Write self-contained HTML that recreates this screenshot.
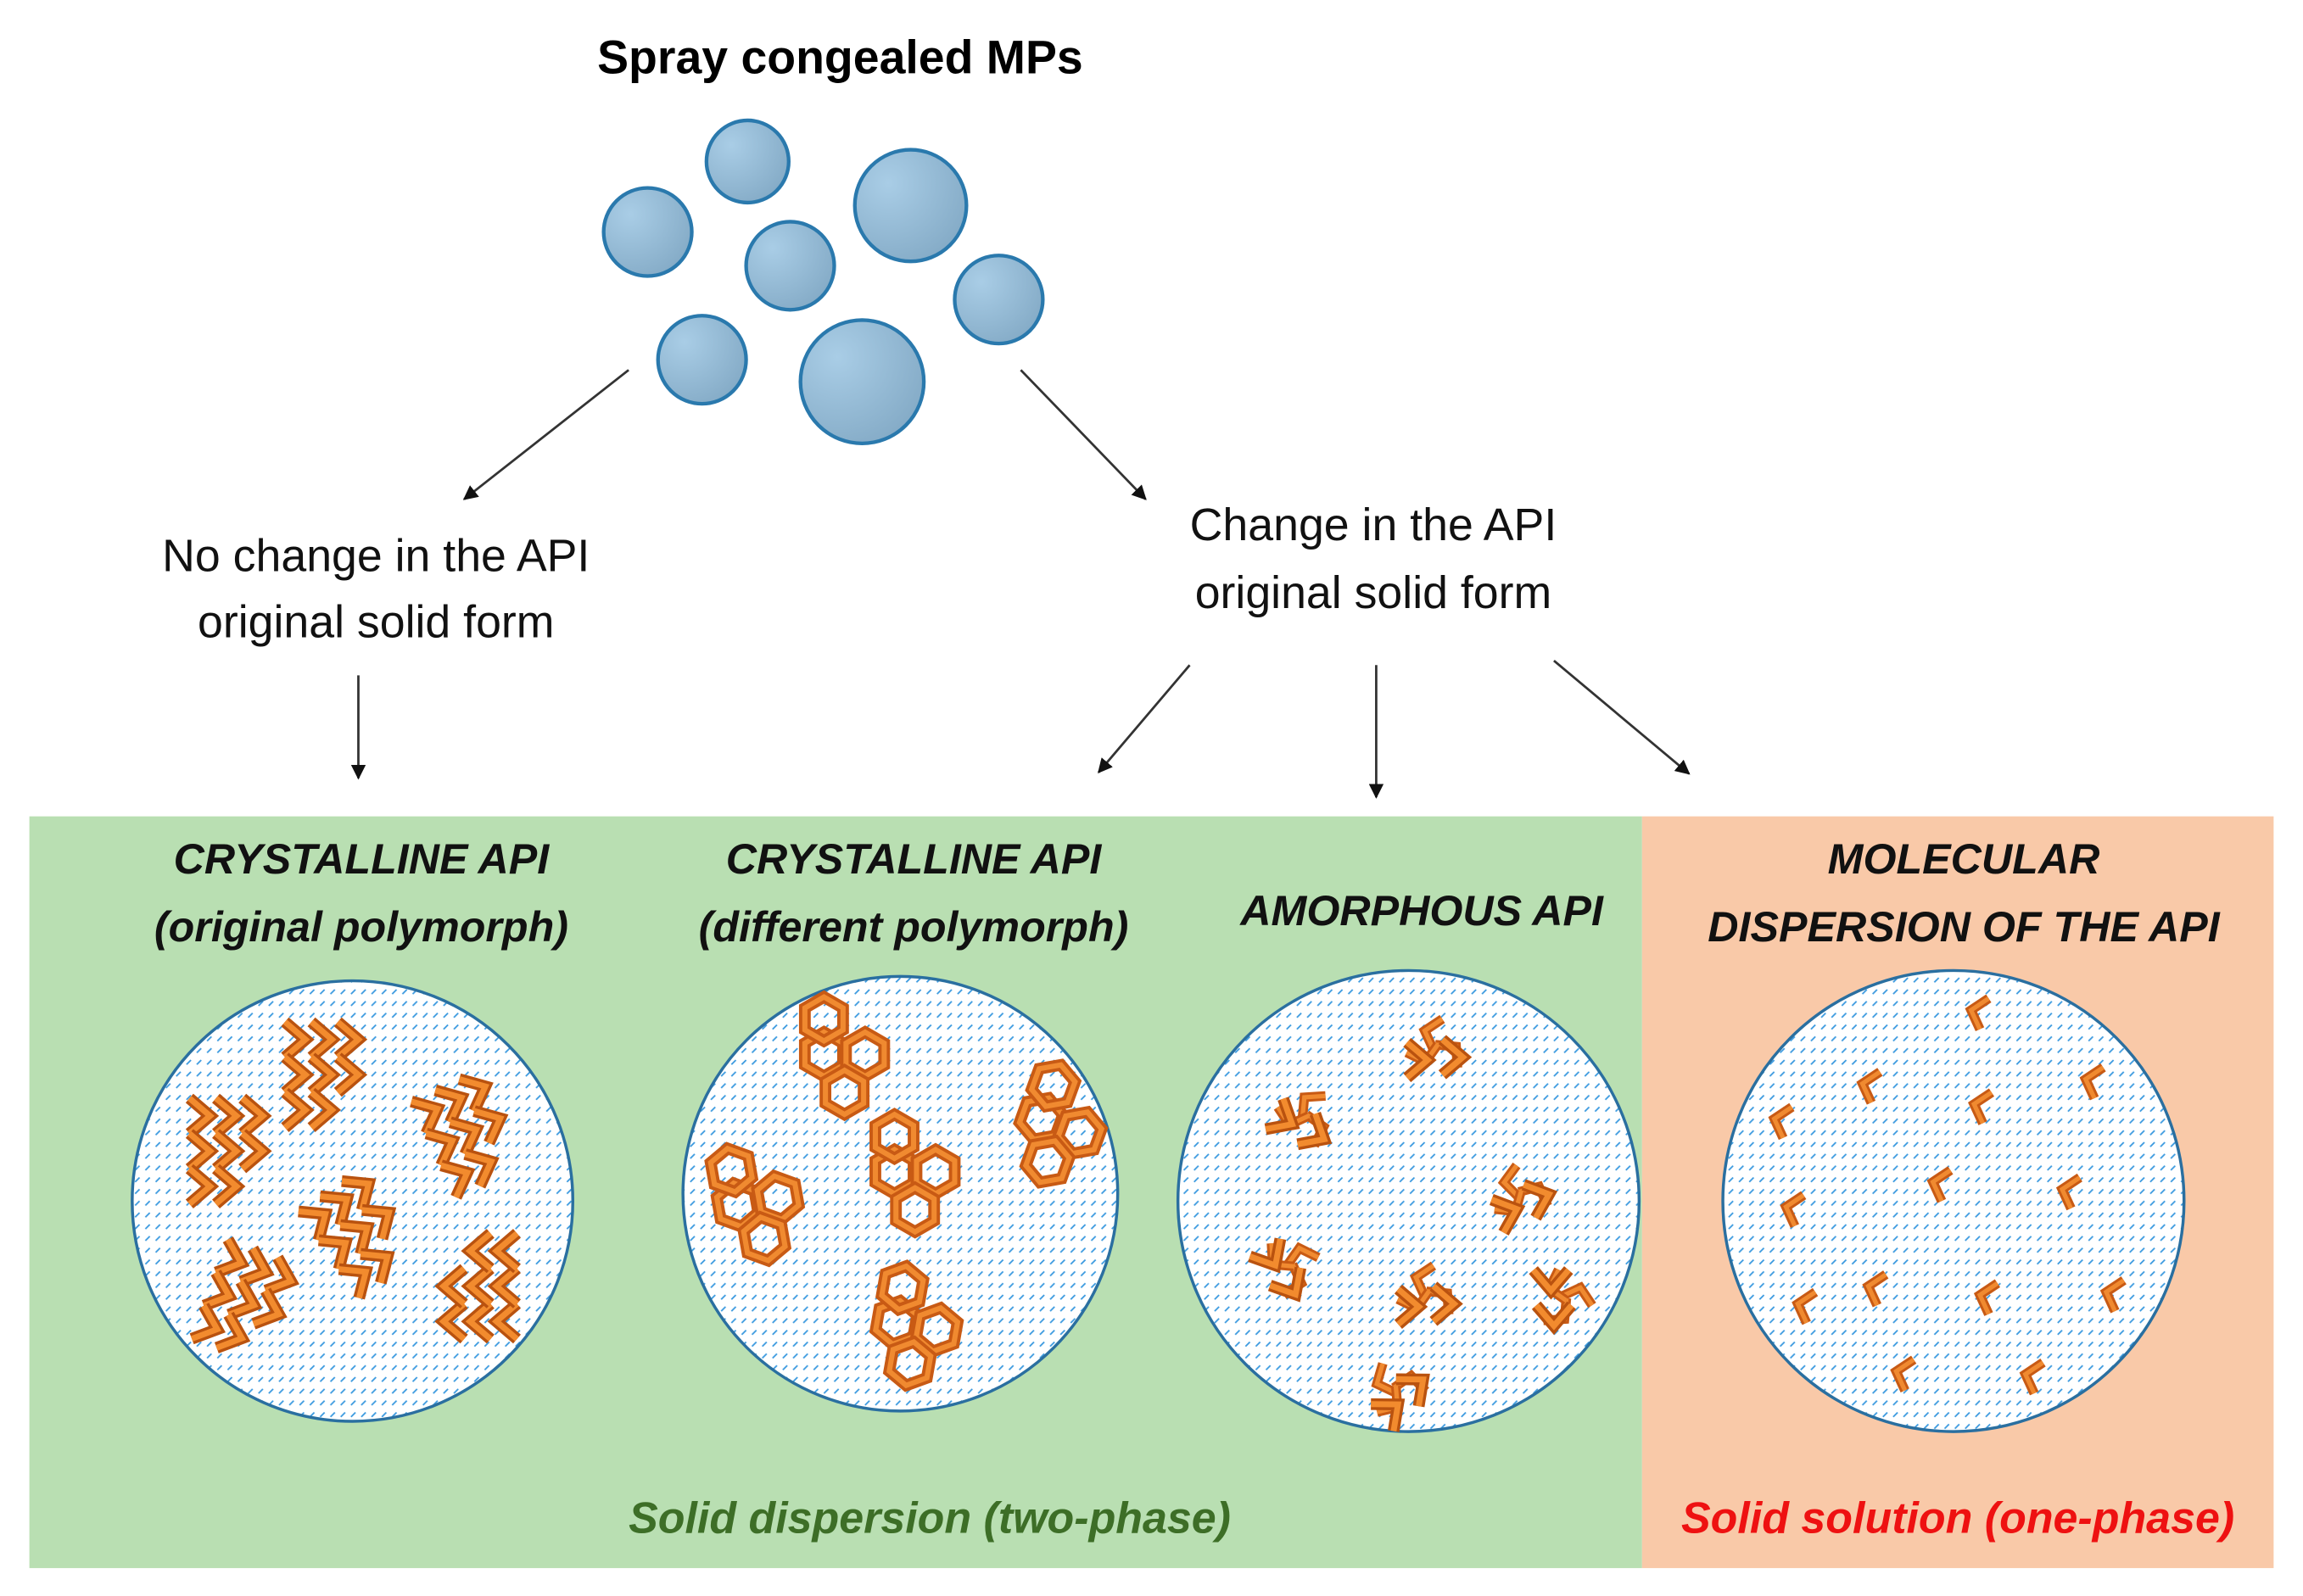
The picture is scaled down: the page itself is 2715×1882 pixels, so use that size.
<!DOCTYPE html>
<html><head><meta charset="utf-8"><style>
html,body{margin:0;padding:0;background:#fff}
svg{display:block}
text{font-family:"Liberation Sans","DejaVu Sans",sans-serif}
</style></head><body>
<svg width="2715" height="1882" viewBox="0 0 1568 1087" preserveAspectRatio="none" xmlns="http://www.w3.org/2000/svg">
<defs>
<radialGradient id="bg" cx="0.3" cy="0.3" r="0.9">
<stop offset="0" stop-color="#a9cde6"/><stop offset="1" stop-color="#7fa6c2"/>
</radialGradient>
<pattern id="hat" width="7" height="8" patternUnits="userSpaceOnUse">
<rect width="7" height="8" fill="#fff"/>
<line x1="1" y1="5" x2="4" y2="2" stroke="#3d9be0" stroke-width="1.1"/>
</pattern>
<marker id="ar" markerWidth="10" markerHeight="10" refX="9" refY="5" orient="auto" markerUnits="userSpaceOnUse" viewBox="0 0 10 10">
<path d="M0,0 L10,5 L0,10 z" fill="#111"/>
</marker>
<g id="cv"><polyline points="12,-8 0,0 6,13" fill="none" stroke="#c85a14" stroke-width="6.5"/><polyline points="12,-8 0,0 6,13" fill="none" stroke="#f08a30" stroke-width="3"/></g>
<g id="ch"><polyline points="-8,-12 6,0 -8,12" fill="none" stroke="#b9520f" stroke-width="8"/><polyline points="-8,-12 6,0 -8,12" fill="none" stroke="#f28b2e" stroke-width="4"/></g>
<g id="cl">
<use href="#ch" x="-18" y="-22"/><use href="#ch" x="0" y="-22"/><use href="#ch" x="18" y="-22"/>
<use href="#ch" x="-18" y="2"/><use href="#ch" x="0" y="2"/><use href="#ch" x="18" y="2"/>
<use href="#ch" x="-18" y="26"/><use href="#ch" x="0" y="26"/>
</g>
<g id="hx">
<polygon points="0,-15 13,-7.5 13,7.5 0,15 -13,7.5 -13,-7.5" fill="none" stroke="#c85a14" stroke-width="8"/>
<polygon points="0,-15 13,-7.5 13,7.5 0,15 -13,7.5 -13,-7.5" fill="none" stroke="#f08a30" stroke-width="3.5"/>
</g>
<g id="hc"><use href="#hx" x="-14" y="-12"/><use href="#hx" x="14" y="-12"/><use href="#hx" x="0" y="14"/><use href="#hx" x="-14" y="-36"/></g>
<g id="am"><use href="#cv" x="-8" y="-10"/><use href="#cv" transform="rotate(120) translate(-6,-12)"/><use href="#cv" transform="rotate(240) translate(-6,-12)"/><use href="#ch" x="12" y="8"/><use href="#ch" x="-12" y="10"/></g>
</defs>

<rect x="0" y="0" width="1568" height="1087" fill="#fff"/>

<text x="572" y="50" font-size="32" font-weight="bold" text-anchor="middle" fill="#000">Spray congealed MPs</text>

<g fill="url(#bg)" stroke="#2a79ad" stroke-width="2.5">
<circle cx="509" cy="110" r="28"/>
<circle cx="441" cy="158" r="30"/>
<circle cx="538" cy="181" r="30"/>
<circle cx="620" cy="140" r="38"/>
<circle cx="680" cy="204" r="30"/>
<circle cx="478" cy="245" r="30"/>
<circle cx="587" cy="260" r="42"/>
</g>

<g stroke="#333" stroke-width="1.6" marker-end="url(#ar)">
<line x1="428" y1="252" x2="316" y2="340"/>
<line x1="695" y1="252" x2="780" y2="340"/>
<line x1="244" y1="460" x2="244" y2="530"/>
<line x1="810" y1="453" x2="748" y2="526"/>
<line x1="937" y1="453" x2="937" y2="543"/>
<line x1="1058" y1="450" x2="1150" y2="527"/>
</g>

<g font-size="31" text-anchor="middle" fill="#111">
<text x="256" y="389">No change in the API</text>
<text x="256" y="434">original solid form</text>
<text x="935" y="368">Change in the API</text>
<text x="935" y="414">original solid form</text>
</g>

<rect x="20" y="556" width="1098" height="512" fill="#b9dfb2"/>
<rect x="1118" y="556" width="430" height="512" fill="#f9c9a8"/>

<g font-size="29" font-weight="bold" font-style="italic" text-anchor="middle" fill="#111">
<text x="246" y="595">CRYSTALLINE API</text>
<text x="246" y="641">(original polymorph)</text>
<text x="622" y="595">CRYSTALLINE API</text>
<text x="622" y="641">(different polymorph)</text>
<text x="968" y="630">AMORPHOUS API</text>
<text x="1337" y="595">MOLECULAR</text>
<text x="1337" y="641">DISPERSION OF THE API</text>
</g>

<g fill="url(#hat)" stroke="#2a6fa0" stroke-width="2">
<circle cx="240" cy="818" r="150"/>
<circle cx="613" cy="813" r="148"/>
<circle cx="959" cy="818" r="157"/>
<circle cx="1330" cy="818" r="157"/>
</g>

<!-- crystalline original -->
<use href="#cl" transform="translate(220 730)"/>
<use href="#cl" transform="translate(155 782)"/>
<use href="#cl" transform="translate(318 770) rotate(-25)"/>
<use href="#cl" transform="translate(244 838) rotate(-35)"/>
<use href="#cl" transform="translate(168 885) rotate(20)"/>
<use href="#cl" transform="translate(326 878) rotate(180)"/>

<!-- crystalline different -->
<use href="#hc" transform="translate(575 730)"/>
<use href="#hc" transform="translate(718 778) rotate(20)"/>
<use href="#hc" transform="translate(518 830) rotate(-10)"/>
<use href="#hc" transform="translate(623 810)"/>
<use href="#hc" transform="translate(622 915) rotate(10)"/>

<!-- amorphous -->
<use href="#am" transform="translate(978 712)"/>
<use href="#am" transform="translate(890 760) rotate(30)"/>
<use href="#am" transform="translate(1035 812) rotate(-20)"/>
<use href="#am" transform="translate(880 862) rotate(60)"/>
<use href="#am" transform="translate(972 880)"/>
<use href="#am" transform="translate(1066 885) rotate(90)"/>
<use href="#am" transform="translate(950 945) rotate(-40)"/>

<!-- molecular -->
<g>
<use href="#cv" x="1342" y="688"/><use href="#cv" x="1268" y="738"/><use href="#cv" x="1420" y="735"/>
<use href="#cv" x="1344" y="752"/><use href="#cv" x="1208" y="762"/><use href="#cv" x="1316" y="805"/>
<use href="#cv" x="1404" y="810"/><use href="#cv" x="1216" y="822"/><use href="#cv" x="1272" y="876"/>
<use href="#cv" x="1224" y="888"/><use href="#cv" x="1348" y="882"/><use href="#cv" x="1434" y="880"/>
<use href="#cv" x="1291" y="934"/><use href="#cv" x="1379" y="936"/>
</g>

<text x="633" y="1044" font-size="30" font-weight="bold" font-style="italic" text-anchor="middle" fill="#3d6e27">Solid dispersion  (two-phase)</text>
<text x="1333" y="1044" font-size="30" font-weight="bold" font-style="italic" text-anchor="middle" fill="#ee1111">Solid solution  (one-phase)</text>
</svg>
</body></html>
